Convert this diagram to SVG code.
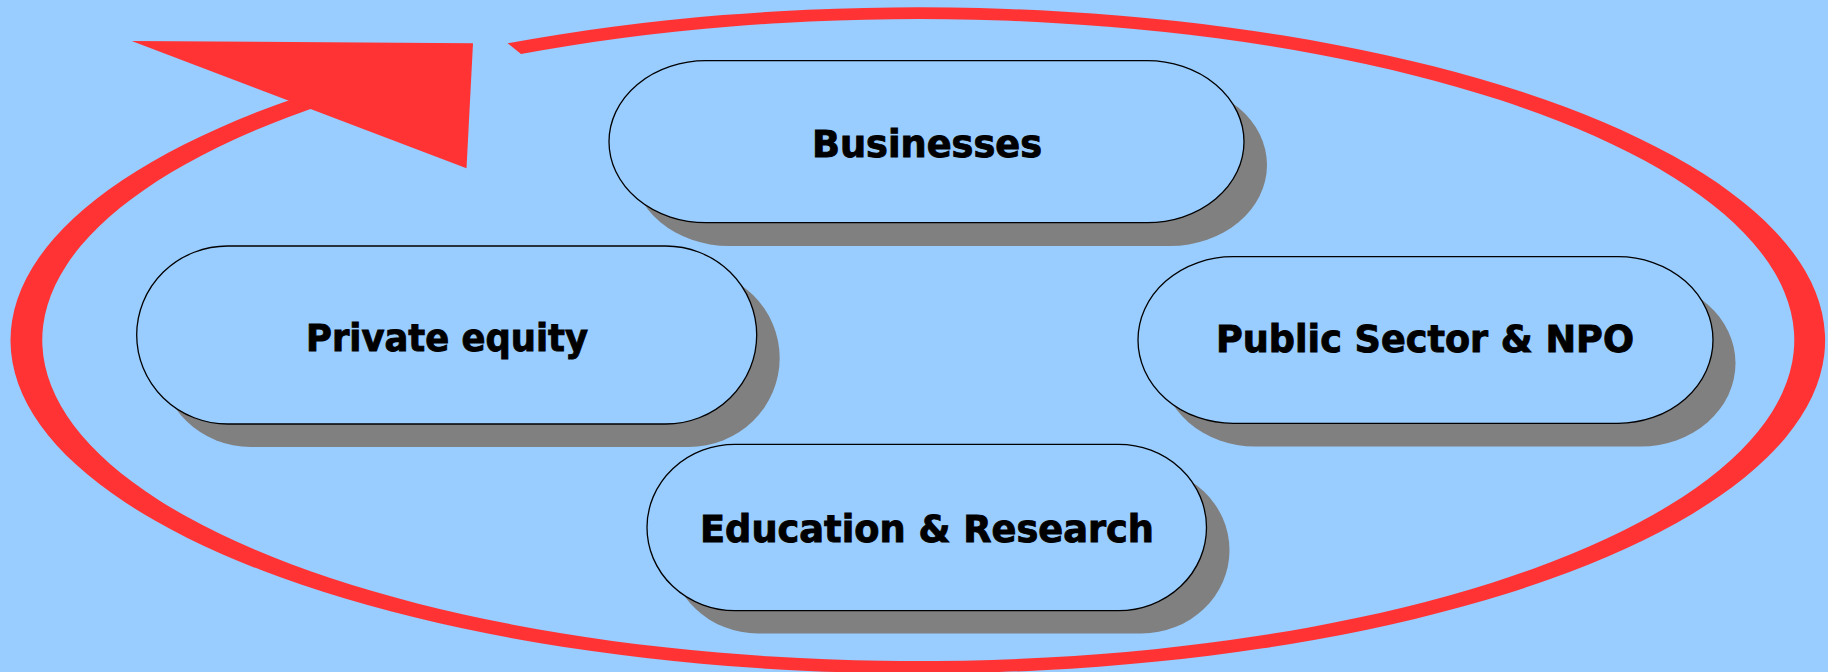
<svg xmlns="http://www.w3.org/2000/svg" width="1828" height="672" viewBox="0 0 1828 672">
<style>
.bg{fill:#99ccff}
.ring{fill:#ff3333;fill-rule:evenodd}
.shadow{fill:#808080}
.box{fill:#99ccff;stroke:#000000;stroke-width:1.3}
.lbl{font-family:"DejaVu Sans","Liberation Sans",Arial,sans-serif;font-weight:bold;font-size:36.5px;fill:#000000;stroke:#000000;stroke-width:0.9;text-anchor:middle}
</style>
<rect class="bg" x="0" y="0" width="1828" height="672"/>
<g id="connectors">
<path class="ring" d="M 507.7 43.3 A 907.3 333 0 1 1 340 83.6 L 350 95.8 A 876 321 0 1 0 521 54 Z"/>
<polygon class="ring" points="131.7,41 473,43.3 466.5,168.3"/>
</g>
<g id="node-businesses">
<rect class="shadow" x="632" y="84" width="635" height="162" rx="97" ry="81"/>
<rect class="box" x="609" y="60.7" width="635" height="162" rx="97" ry="81"/>
<text class="lbl" x="927" y="156.7" textLength="230" lengthAdjust="spacingAndGlyphs">Businesses</text>
</g>
<g id="node-private-equity">
<rect class="shadow" x="159.7" y="269" width="620" height="178" rx="91" ry="89"/>
<rect class="box" x="136.7" y="246" width="620" height="178" rx="91" ry="89"/>
<text class="lbl" x="447" y="350.7" textLength="282" lengthAdjust="spacingAndGlyphs">Private equity</text>
</g>
<g id="node-public-sector">
<rect class="shadow" x="1160.5" y="280" width="575" height="166.6" rx="95" ry="83.3"/>
<rect class="box" x="1138" y="256.7" width="575" height="166.6" rx="95" ry="83.3"/>
<text class="lbl" x="1425" y="351.7" textLength="418" lengthAdjust="spacingAndGlyphs">Public Sector &amp; NPO</text>
</g>
<g id="node-education">
<rect class="shadow" x="670" y="467" width="559.5" height="166.4" rx="88" ry="83.2"/>
<rect class="box" x="647" y="444.3" width="559.5" height="166.4" rx="88" ry="83.2"/>
<text class="lbl" x="927" y="542.3" textLength="454" lengthAdjust="spacingAndGlyphs">Education &amp; Research</text>
</g>
</svg>
